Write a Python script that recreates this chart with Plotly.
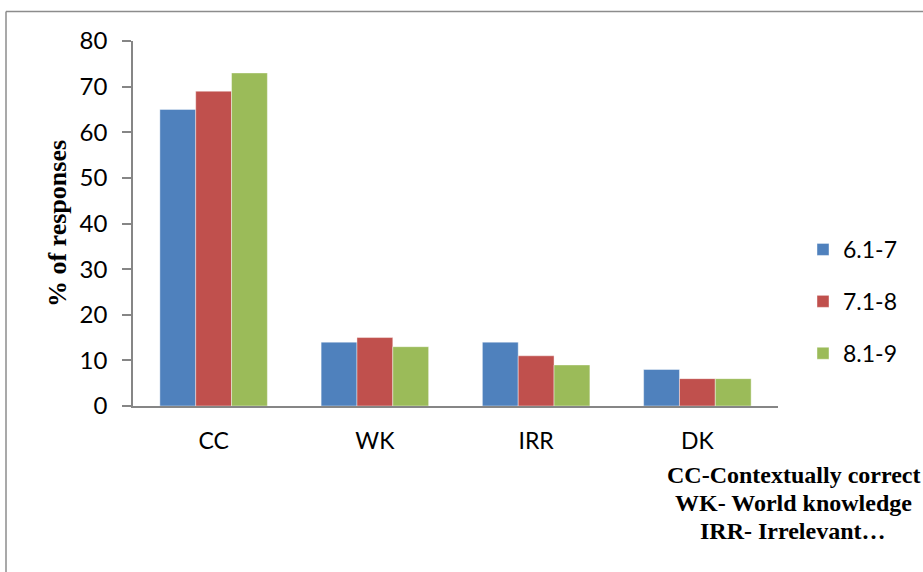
import plotly.graph_objects as go

categories = ["CC", "WK", "IRR", "DK"]
series_names = ["6.1-7", "7.1-8", "8.1-9"]
values_61_7 = [65, 14, 14, 8]
values_71_8 = [69, 15, 11, 6]
values_81_9 = [73, 13, 9, 6]
series_values = [values_61_7, values_71_8, values_81_9]
series_colors = ["#4F81BD", "#C0504D", "#9BBB59"]
y_ticks = [0, 10, 20, 30, 40, 50, 60, 70, 80]
footnote_lines = ["CC-Contextually correct", "WK- World knowledge", "IRR- Irrelevant…"]

W, H = 923, 572
L, R, T, B = 133, 145, 41, 166
pw, ph = W - L - R, H - T - B

def px_to_paper_x(px):
    return (px - L) / pw

def px_to_paper_y(py):
    return (H - B - py) / ph

fig = go.Figure()
for i, (name, vals, col) in enumerate(zip(series_names, series_values, series_colors)):
    fig.add_trace(go.Bar(
        x=categories, y=vals, name=name,
        marker=dict(color=col, line=dict(width=0.6, color="rgba(255,255,255,0.7)")),
        legendgroup=f"g{i}",
    ))

axis_gray = "#868686"
text_font = "Lato, Carlito, Calibri, sans-serif"
serif_font = "Liberation Serif, Times New Roman, serif"

fig.update_layout(
    width=W, height=H,
    margin=dict(l=L, r=R, t=T, b=B),
    paper_bgcolor="white", plot_bgcolor="white",
    barmode="group", bargap=1.5 / 4.5, bargroupgap=0,
    font=dict(family=text_font, size=23, color="#000000"),
    xaxis=dict(
        showline=True, linecolor=axis_gray, linewidth=1.5,
        ticks="", showgrid=False, zeroline=False,
        ticklabelstandoff=14,
        tickfont=dict(family=text_font, size=23),
    ),
    yaxis=dict(
        range=[0, 80], tickvals=y_ticks,
        showline=True, linecolor=axis_gray, linewidth=1.5,
        ticks="outside", ticklen=9, tickcolor=axis_gray, tickwidth=1.5,
        showgrid=False, zeroline=False,
        ticklabelstandoff=10,
        tickfont=dict(family=text_font, size=24),
        title=dict(
            text="<b>% of responses</b>",
            font=dict(family=serif_font, size=26),
            standoff=6,
        ),
    ),
    legend=dict(
        x=px_to_paper_x(803), y=px_to_paper_y(228),
        xanchor="left", yanchor="top",
        traceorder="grouped", tracegroupgap=19,
        font=dict(family=text_font, size=23),
        itemwidth=30,
        bgcolor="rgba(0,0,0,0)",
    ),
)

# legend-key footnote, one line per annotation
for k, line in enumerate(footnote_lines):
    fig.add_annotation(
        text=f"<b>{line}</b>",
        xref="paper", yref="paper",
        x=px_to_paper_x(793), y=px_to_paper_y(475 + 28 * k),
        xanchor="center", yanchor="middle",
        showarrow=False, align="center",
        font=dict(family=serif_font, size=24, color="#000000"),
    )

# chart-area frame (left and top edges)
frame_gray = "#8c8c8c"
fig.add_shape(type="line", xref="paper", yref="paper",
              x0=px_to_paper_x(6), x1=px_to_paper_x(6),
              y0=px_to_paper_y(11.5), y1=px_to_paper_y(H + 5),
              line=dict(color=frame_gray, width=1.5))
fig.add_shape(type="line", xref="paper", yref="paper",
              x0=px_to_paper_x(6), x1=px_to_paper_x(W + 5),
              y0=px_to_paper_y(11.5), y1=px_to_paper_y(11.5),
              line=dict(color=frame_gray, width=1.5))

fig.write_html("out.html")
